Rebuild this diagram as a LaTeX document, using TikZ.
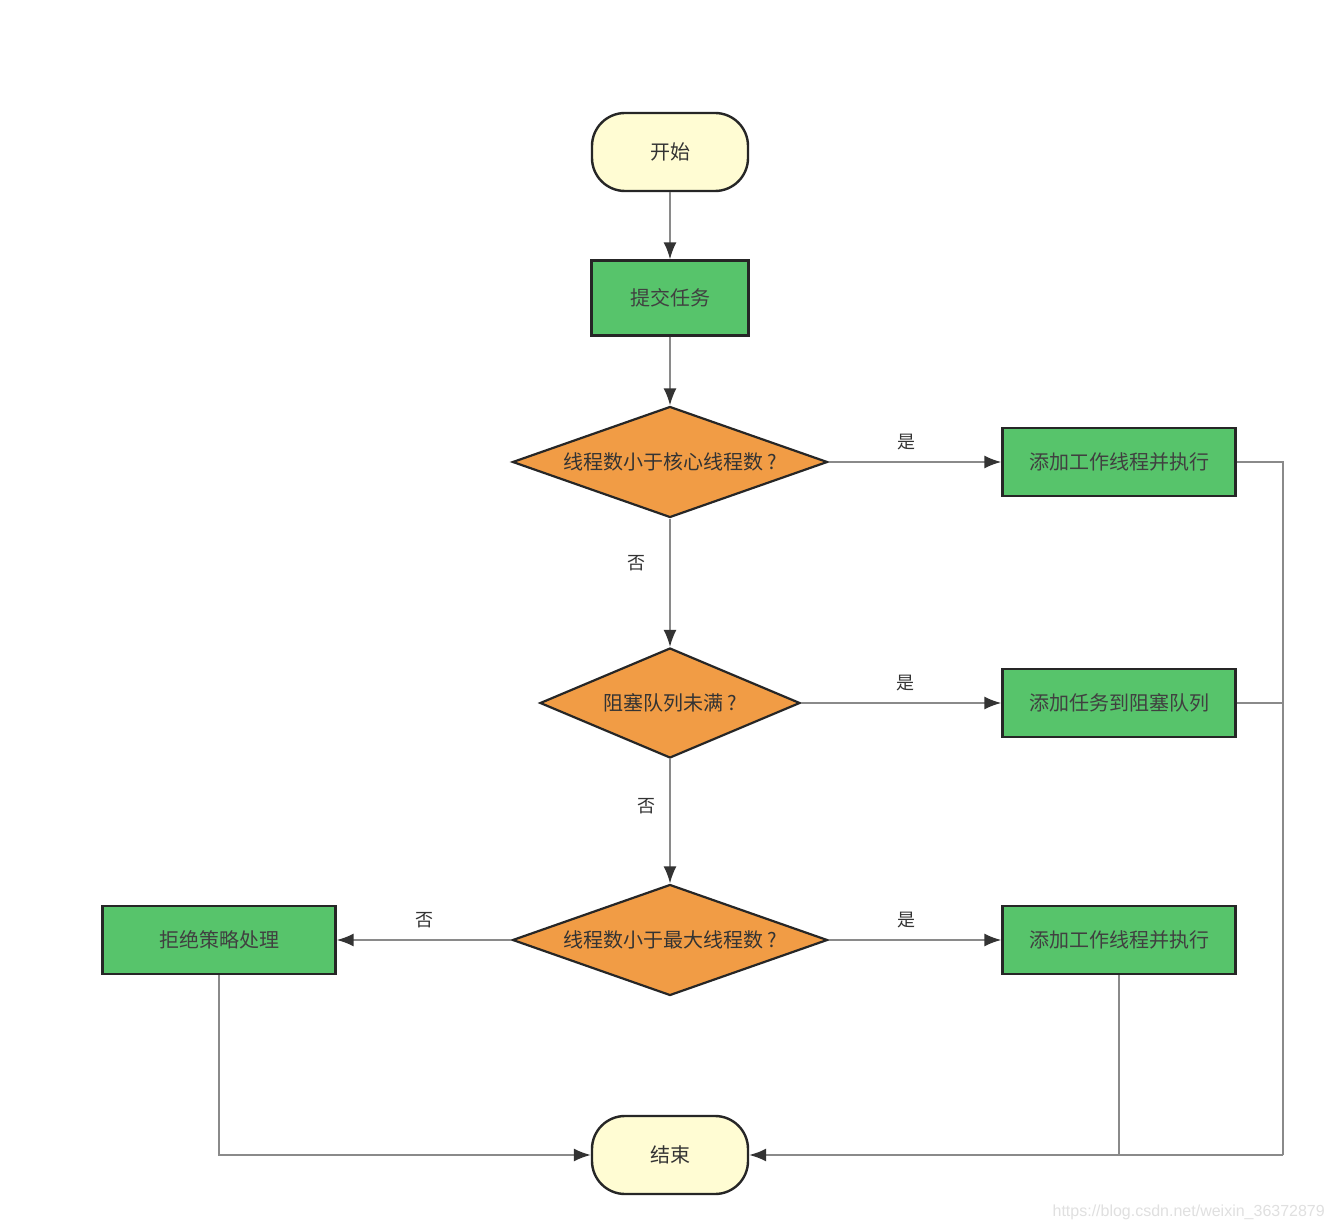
\documentclass[tikz,border=0pt]{standalone}
\usepackage{fontspec}
\setmainfont{Liberation Sans}
\newfontfamily\cjk{Noto Sans CJK SC}
\usetikzlibrary{shapes.geometric,arrows.meta}
\definecolor{termfill}{HTML}{FFFCD3}
\definecolor{procfill}{HTML}{57C46B}
\definecolor{decfill}{HTML}{F19C45}
\definecolor{edgecol}{HTML}{262626}
\definecolor{linecol}{HTML}{8A8A8A}
\definecolor{tipcol}{HTML}{333333}
\definecolor{txtcol}{HTML}{333333}
\tikzset{
  base/.style={draw=edgecol, line width=2.4pt, text=txtcol, font=\cjk\fontsize{20}{23}\selectfont, inner sep=0pt},
  term/.style={base, rectangle, rounded corners=33pt, fill=termfill, minimum width=156pt, minimum height=78pt},
  proc/.style={base, rectangle, fill=procfill, minimum width=233pt, minimum height=68pt, text=black!75},
  dec/.style={base, diamond, fill=decfill, line width=2.2pt},
  conn/.style={draw=linecol, line width=1.8pt, -{Latex[length=17pt,width=13pt,color=tipcol]}},
  plain/.style={draw=linecol, line width=1.8pt},
  lbl/.style={text=txtcol, font=\cjk\fontsize{18}{20}\selectfont, inner sep=0pt}
}
\begin{document}
\begin{tikzpicture}[x=1pt,y=-1pt]
\useasboundingbox[fill=white] (0,0) rectangle (1334,1230);
\node[term] (start) at (670,152) {开始};
\node[proc, minimum width=157pt, minimum height=75pt] (submit) at (670,298) {提交任务};
\node[dec, aspect=2.84, minimum width=315pt, minimum height=111pt] (d1) at (670,462) {线程数小于核心线程数 ?};
\node[proc] (add1) at (1119,462) {添加工作线程并执行};
\node[dec, aspect=2.36, minimum width=260pt, minimum height=110pt] (d2) at (670,703) {阻塞队列未满 ?};
\node[proc] (queue) at (1119,703) {添加任务到阻塞队列};
\node[dec, aspect=2.84, minimum width=315pt, minimum height=111pt] (d3) at (670,940) {线程数小于最大线程数 ?};
\node[proc] (reject) at (219,940) {拒绝策略处理};
\node[proc] (add2) at (1119,940) {添加工作线程并执行};
\node[term] (end) at (670,1155) {结束};
\coordinate (rt) at (1283,462);
\coordinate (rb) at (1283,1155);
\coordinate (jb) at (1119,1155);

\draw[conn] (start) -- (submit);
\draw[conn] (submit) -- (d1);
\draw[conn] (d1) -- node[lbl, pos=0.45, above=11pt] {是} (add1);
\draw[conn] (d1) -- node[lbl, pos=0.35, left=24pt] {否} (d2);
\draw[conn] (d2) -- node[lbl, pos=0.52, above=11pt] {是} (queue);
\draw[conn] (d2) -- node[lbl, pos=0.38, left=14pt] {否} (d3);
\draw[conn] (d3) -- node[lbl, pos=0.45, above=11pt] {是} (add2);
\draw[conn] (d3) -- node[lbl, pos=0.5, above=11pt] {否} (reject);
\draw[plain] (add1.east) -- (rt) -- (rb);
\draw[plain] (queue.east) -- (queue.east -| rt);
\draw[plain] (add2.south) -- (jb);
\draw[conn] (rb) -- (end.east);
\draw[conn] (reject.south) |- (end.west);
\node[text=black!12, font=\fontsize{16}{18}\selectfont, anchor=east, inner sep=0pt] (wm) at (1325,1212) {https://blog.csdn.net/weixin\_36372879};
\end{tikzpicture}
\end{document}
